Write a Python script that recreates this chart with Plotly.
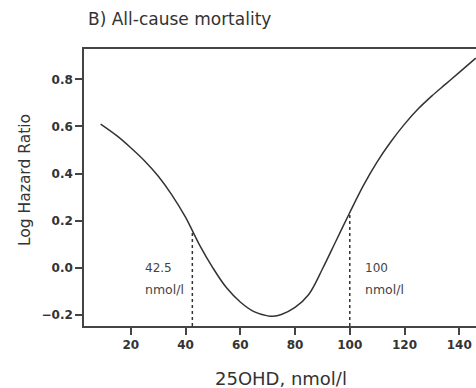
import plotly.graph_objects as go

# Data
ohd = [9, 15, 20, 25, 30, 35, 40, 42.5, 45, 50, 55, 60, 65, 70, 72, 75, 80, 85, 90,
       95, 100, 105, 110, 115, 120, 125, 130, 135, 140, 146]
log_hr = [0.61, 0.56, 0.51, 0.455, 0.39, 0.31, 0.215, 0.158, 0.10, 0.0, -0.085, -0.145,
          -0.186, -0.204, -0.206, -0.198, -0.168, -0.113, -0.005, 0.115, 0.235, 0.35, 0.45,
          0.535, 0.61, 0.675, 0.73, 0.78, 0.83, 0.89]
cutoffs = [42.5, 100]
cutoff_hr = [0.158, 0.235]
cutoff_labels = ["42.5", "100"]
x_ticks = [20, 40, 60, 80, 100, 120, 140]
y_ticks = [-0.2, 0.0, 0.2, 0.4, 0.6, 0.8]

x_range = [2.93, 146.1]
y_range = [-0.247, 0.929]

dark = "#333333"
fig = go.Figure()
fig.add_trace(go.Scatter(x=ohd, y=log_hr, mode="lines",
                         line=dict(color=dark, width=1.5, shape="spline", smoothing=1.0),
                         showlegend=False, hoverinfo="skip"))
for c, h in zip(cutoffs, cutoff_hr):
    fig.add_trace(go.Scatter(x=[c, c], y=[y_range[0], h], mode="lines",
                             line=dict(color=dark, width=1.5, dash="dot"),
                             showlegend=False, hoverinfo="skip"))

label_x = [24.3, 104.9]
for lx, lab in zip(label_x, cutoff_labels):
    fig.add_annotation(x=lx, y=0.0, text=lab, showarrow=False, xanchor="left",
                       yanchor="middle", font=dict(family="DejaVu Sans", size=12, color="#444"))
    fig.add_annotation(x=lx, y=-0.094, text="nmol/l", showarrow=False, xanchor="left",
                       yanchor="middle", font=dict(family="DejaVu Sans", size=12.5, color="#444"))

fig.add_annotation(xref="paper", yref="paper", x=0.005, y=1.108, text="B) All-cause mortality",
                   showarrow=False, xanchor="left", yanchor="middle",
                   font=dict(family="DejaVu Sans", size=17, color="#333"))
fig.add_annotation(xref="paper", yref="paper", x=-0.1505, y=0.527, text="Log Hazard Ratio",
                   showarrow=False, textangle=-90, xanchor="center", yanchor="middle",
                   font=dict(family="DejaVu Sans", size=15.5, color="#333"))
fig.add_annotation(xref="paper", yref="paper", x=0.5026, y=-0.19, text="25OHD, nmol/l",
                   showarrow=False, xanchor="center", yanchor="middle",
                   font=dict(family="DejaVu Sans", size=18, color="#333"))

axis_common = dict(showgrid=False, zeroline=False, showline=True, linecolor="#444",
                   linewidth=1.5, ticks="outside", ticklen=7, tickwidth=1.5,
                   tickcolor="#444",
                   tickfont=dict(family="DejaVu Sans", size=12, color="#333", weight="bold"))
fig.update_xaxes(range=x_range, tickvals=x_ticks, mirror=True, **axis_common)
fig.update_yaxes(range=y_range, tickvals=y_ticks, tickformat=".1f", **axis_common)

fig.update_layout(width=476, height=388, margin=dict(l=84, r=0, t=49, b=62),
                  plot_bgcolor="white", paper_bgcolor="white")
# top frame edge, drawn as a thin filled band just above the plot area
fig.add_shape(type="rect", xref="paper", yref="paper", x0=-0.002, x1=1.0, y0=1.0, y1=1.007,
              line=dict(width=0), fillcolor="#444444", layer="above")
fig.write_html("out.html")
